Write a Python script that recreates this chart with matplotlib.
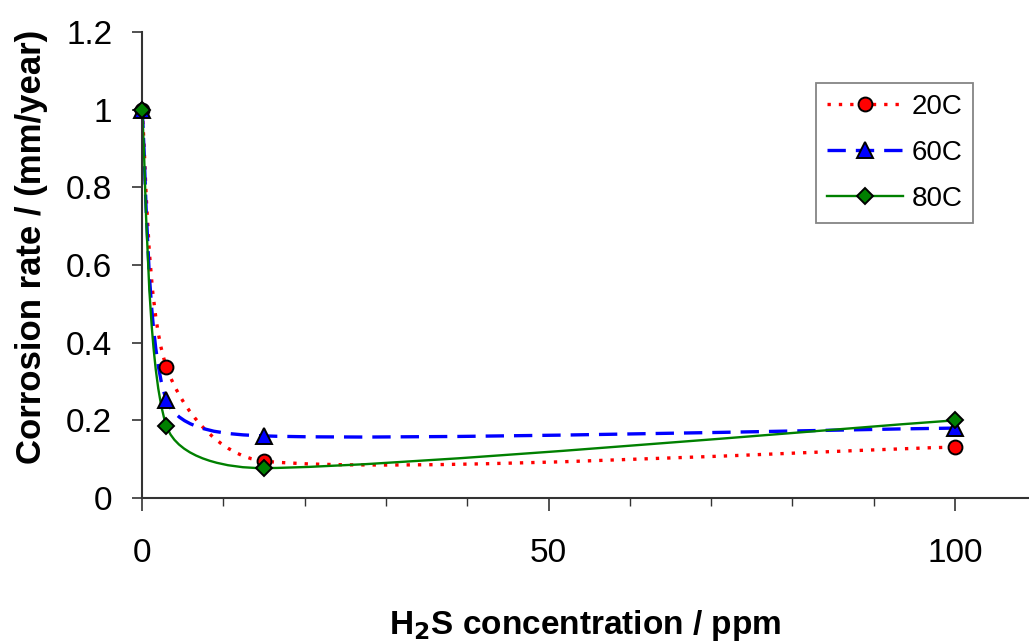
import numpy as np
import matplotlib
matplotlib.use("Agg")
import matplotlib.pyplot as plt
from matplotlib.path import Path
from matplotlib.patches import PathPatch
from matplotlib.lines import Line2D

plt.rcParams['font.family'] = ['Liberation Sans', 'DejaVu Sans']

h2s_ppm = [0, 3, 15, 100]
rate_20c = [1.0, 0.338, 0.095, 0.131]
rate_60c = [1.0, 0.253, 0.160, 0.180]
rate_80c = [1.0, 0.186, 0.077, 0.200]
series_names = ["20C", "60C", "80C"]

W, H = 1029, 642
fig = plt.figure(figsize=(W / 100, H / 100), dpi=100)
ax_left, ax_bottom, ax_top = 142, 498, 32
ax = fig.add_axes([ax_left / W, 1 - ax_bottom / H, 1 - ax_left / W, (ax_bottom - ax_top) / H])
XMAX, YMAX = 109.1, 1.2
ax.set_xlim(0, XMAX)
ax.set_ylim(0, YMAX)
sx = (W - ax_left) / XMAX
sy = (ax_bottom - ax_top) / YMAX


def smooth_path(xs, ys):
    # Excel-like smoothing: Bezier segments, tangents from neighbours,
    # computed in pixel space and limited to a third of each segment
    p = np.column_stack([np.asarray(xs) * sx, np.asarray(ys) * sy]).astype(float)
    n = len(p)
    verts = [p[0]]
    codes = [Path.MOVETO]
    for i in range(n - 1):
        p0 = p[i - 1] if i > 0 else p[i]
        p1 = p[i]
        p2 = p[i + 1]
        p3 = p[i + 2] if i + 2 < n else p[i + 1]
        seg = np.linalg.norm(p2 - p1)
        d1 = p2 - p0
        d2 = p3 - p1
        l1 = min(np.linalg.norm(d1) / 6.0, seg / 3.0)
        l2 = min(np.linalg.norm(d2) / 6.0, seg / 3.0)
        c1 = p1 + d1 / np.linalg.norm(d1) * l1
        c2 = p2 - d2 / np.linalg.norm(d2) * l2
        verts += [c1, c2, p2]
        codes += [Path.CURVE4] * 3
    verts = np.array(verts)
    verts[:, 0] /= sx
    verts[:, 1] /= sy
    return Path(verts, codes)


styles = [
    dict(color='#ff0000', ls=(0, (1.0, 2.4)), lw=2.4, marker='o', ms=10),
    dict(color='#0000ff', ls=(0, (5.5, 3.0)), lw=2.4, marker='^', ms=11),
    dict(color='#008000', ls='-', lw=1.7, marker='D', ms=8),
]
handles = []
for ys, st, name in zip([rate_20c, rate_60c, rate_80c], styles, series_names):
    patch = PathPatch(smooth_path(h2s_ppm, ys), facecolor='none', edgecolor=st['color'],
                      lw=st['lw'], linestyle=st['ls'], zorder=2, clip_on=False,
                      capstyle='butt')
    ax.add_patch(patch)
    ax.plot(h2s_ppm, ys, ls='none', marker=st['marker'], ms=st['ms'],
            mfc=st['color'], mec='black', mew=1.4, zorder=3, clip_on=False)
    handles.append(Line2D([], [], color=st['color'], ls=st['ls'], lw=st['lw'],
                          marker=st['marker'], ms=st['ms'], mfc=st['color'],
                          mec='black', mew=1.4))

ax.set_xticks([0, 50, 100])
ax.set_xticks(np.arange(10, 100, 10), minor=True)
ax.set_yticks(np.arange(0, 1.21, 0.2))
ax.set_yticklabels(['0', '0.2', '0.4', '0.6', '0.8', '1', '1.2'])
for s in ['top', 'right']:
    ax.spines[s].set_visible(False)
for s in ['left', 'bottom']:
    ax.spines[s].set_color('#333333')
    ax.spines[s].set_linewidth(1.5)
ax.tick_params(axis='y', direction='out', length=7.5, width=1.2, colors='#333333',
               labelcolor='black', labelsize=24, pad=14)
ax.tick_params(axis='x', which='major', direction='out', length=9, width=1.2,
               colors='#333333', labelcolor='black', labelsize=24, pad=20)
ax.tick_params(axis='x', which='minor', direction='out', length=5.5, width=1.0,
               colors='#333333')

ax.set_xlabel(r'H$_\mathbf{2}$S concentration / ppm', fontsize=24, fontweight='bold',
              labelpad=28)
ax.set_ylabel('Corrosion rate / (mm/year)', fontsize=25, fontweight='bold')
ax.yaxis.set_label_coords(-0.106, 0.539)

leg = ax.legend(handles, series_names, loc='upper left',
                bbox_to_anchor=((816 - ax_left) / (W - ax_left), (ax_bottom - 83) / (ax_bottom - ax_top)),
                fontsize=20, frameon=True, fancybox=False, edgecolor='#666666',
                handlelength=2.75, handletextpad=0.3, labelspacing=0.73,
                borderpad=0.38, borderaxespad=0)
leg.get_frame().set_linewidth(1.3)

fig.savefig('out.png', dpi=100)
